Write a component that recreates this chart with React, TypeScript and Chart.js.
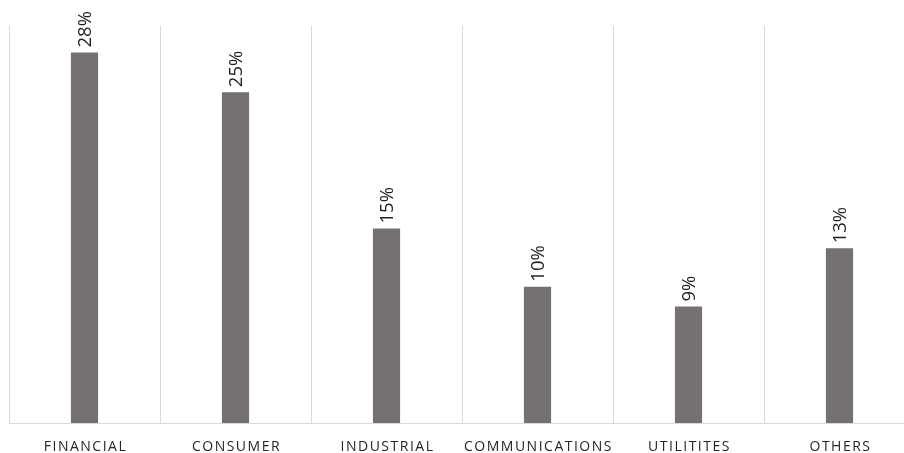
import React, { useEffect, useRef } from "react";
import { Chart, registerables } from "chart.js";

Chart.register(...registerables);

const categories = ["FINANCIAL", "CONSUMER", "INDUSTRIAL", "COMMUNICATIONS", "UTILITITES", "OTHERS"];
const shares = [28, 25, 14.7, 10.3, 8.8, 13.2];
const yMax = 30;

const BAR_COLOR = "#767171";
const GRID_COLOR = "#d9d9d9";

const labelsPlugin = {
  id: "customLabels",
  afterDatasetsDraw(chart: any) {
    const ctx = chart.ctx;
    const meta = chart.getDatasetMeta(0);
    ctx.save();
    ctx.fillStyle = "#1f1f1f";
    ctx.font = "18.5px 'Open Sans', sans-serif";
    meta.data.forEach((bar: any, i: number) => {
      const v = chart.data.datasets[0].data[i] as number;
      ctx.save();
      ctx.translate(bar.x + 1, bar.y - 5);
      ctx.rotate(-Math.PI / 2);
      ctx.textAlign = "left";
      ctx.textBaseline = "middle";
      ctx.fillText(Math.round(v) + "%", 0, 0);
      ctx.restore();
    });
    const xs = chart.scales.x;
    ctx.fillStyle = "#262626";
    ctx.font = "14px 'Open Sans', sans-serif";
    (ctx as any).letterSpacing = "1.5px";
    ctx.textAlign = "center";
    ctx.textBaseline = "middle";
    (chart.data.labels as string[]).forEach((lab, i) => {
      const x = xs.getPixelForValue(i);
      ctx.fillText(lab, x + 1, chart.chartArea.bottom + 24);
    });
    ctx.restore();
  },
};

export default function App() {
  const ref = useRef<HTMLCanvasElement>(null);
  useEffect(() => {
    if (!ref.current) return;
    const chart = new Chart(ref.current, {
      type: "bar",
      data: {
        labels: categories,
        datasets: [
          {
            data: shares,
            backgroundColor: BAR_COLOR,
            barPercentage: 0.18,
            categoryPercentage: 1,
          },
        ],
      },
      options: {
        animation: false,
        responsive: false,
        maintainAspectRatio: false,
        layout: { padding: { left: 9, right: 15, top: 26, bottom: 30 } },
        plugins: { legend: { display: false }, tooltip: { enabled: false } },
        scales: {
          x: {
            offset: true,
            ticks: { display: false },
            grid: { color: GRID_COLOR, offset: true, drawTicks: false, lineWidth: 1 },
            border: { display: true, color: GRID_COLOR },
          },
          y: {
            display: false,
            min: 0,
            max: yMax,
          },
        },
      },
      plugins: [labelsPlugin],
    });
    return () => chart.destroy();
  }, []);
  return (
    <div style={{ position: "fixed", left: 0, top: 0, width: 904, height: 453, overflow: "hidden", background: "#fff" }}>
      <canvas ref={ref} width={930} height={453} style={{ display: "block", width: 930, height: 453 }} />
    </div>
  );
}
